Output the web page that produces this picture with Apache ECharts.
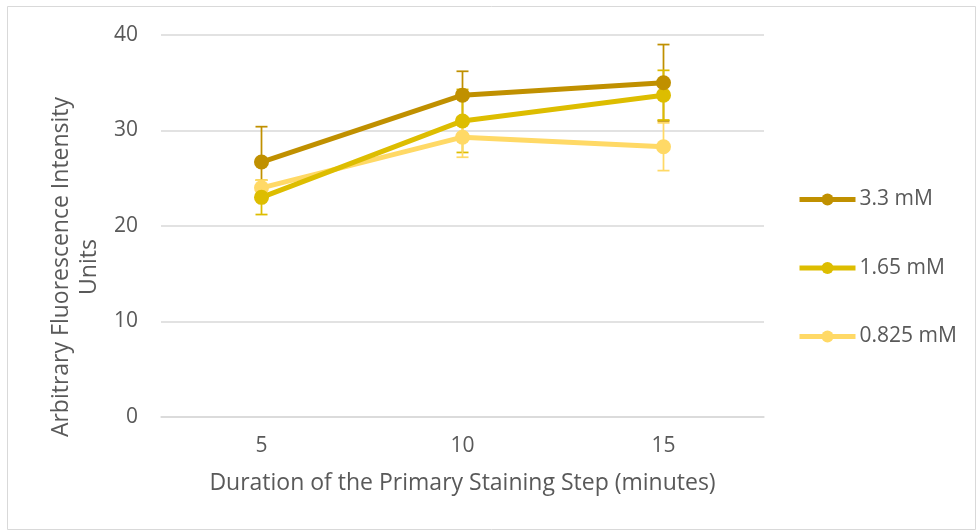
<!DOCTYPE html>
<html><head><meta charset="utf-8">
<script src="https://cdn.jsdelivr.net/npm/echarts@6/dist/echarts.min.js"></script>
<style>html,body{margin:0;padding:0;background:#fff}#c{width:978px;height:531px}</style>
</head><body><div id="c"></div>
<script>
const categories = ['5', '10', '15'];
const seriesNames = ['3.3 mM', '1.65 mM', '0.825 mM'];
const values33 = [26.7, 33.7, 35.0];
const values165 = [23.0, 31.0, 33.7];
const values0825 = [24.0, 29.3, 28.3];
const err33 = [3.7, 2.5, 4.0];
const err165 = [1.8, 3.3, 2.6];
const err0825 = [0.8, 2.1, 2.5];
const yTicks = { min: 0, max: 40, interval: 10 };
const colors = ['#C09000', '#DDBD00', '#FFD966'];

const allValues = [values33, values165, values0825];
const allErr = [err33, err165, err0825];
const FONT = 'Open Sans';
const TXT = '#595959';

const series = [];
allValues.forEach((vals, s) => {
  series.push({
    type: 'custom',
    name: seriesNames[s] + ' err',
    z: 1,
    silent: true,
    data: vals.map((v, i) => [i, v - allErr[s][i], v + allErr[s][i]]),
    renderItem: (params, api) => {
      const x = api.value(0);
      const lo = api.coord([x, api.value(1)]);
      const hi = api.coord([x, api.value(2)]);
      const w = 6;
      const st = { stroke: colors[s], lineWidth: 1.75 };
      return { type: 'group', children: [
        { type: 'line', shape: { x1: lo[0], y1: lo[1], x2: hi[0], y2: hi[1] }, style: st },
        { type: 'line', shape: { x1: lo[0] - w, y1: lo[1], x2: lo[0] + w, y2: lo[1] }, style: st },
        { type: 'line', shape: { x1: hi[0] - w, y1: hi[1], x2: hi[0] + w, y2: hi[1] }, style: st }
      ]};
    }
  });
});
allValues.forEach((vals, s) => {
  series.push({
    type: 'line',
    name: seriesNames[s],
    data: vals,
    z: 3 - s + 2,
    symbol: 'circle',
    symbolSize: 15,
    lineStyle: { width: 5, color: colors[s] },
    itemStyle: { color: colors[s] },
    emphasis: { disabled: true }
  });
});

const chart = echarts.init(document.getElementById('c'), null, { renderer: 'canvas' });
chart.setOption({
  animation: false,
  backgroundColor: '#fff',
  color: colors,
  grid: { left: 161, right: 214, top: 35, bottom: 114 },
  graphic: [
    { type: 'rect', shape: { x: 7.5, y: 6.5, width: 968, height: 523 }, style: { fill: 'none', stroke: '#D9D9D9', lineWidth: 1 } },
    { type: 'text', x: 47, y: 267, rotation: Math.PI / 2,
      style: { text: 'Arbitrary Fluorescence Intensity\nUnits', fill: TXT, font: '23px "' + FONT + '"', align: 'center', verticalAlign: 'top', lineHeight: 28 } }
  ],
  legend: {
    orient: 'vertical',
    left: 792,
    top: 184,
    itemWidth: 56,
    itemHeight: 15,
    itemGap: 47.5,
    data: seriesNames,
    lineStyle: { width: 5 },
    textStyle: { color: TXT, fontFamily: FONT, fontSize: 21, padding: [0, 0, 0, -1] }
  },
  xAxis: {
    type: 'category',
    data: categories,
    name: 'Duration of the Primary Staining Step (minutes)',
    nameLocation: 'middle',
    nameGap: 55,
    nameTextStyle: { color: TXT, fontFamily: FONT, fontSize: 23 },
    axisLine: { show: true, lineStyle: { color: '#D9D9D9', width: 1.5 } },
    axisTick: { show: false },
    axisLabel: { color: TXT, fontFamily: FONT, fontSize: 21, margin: 19 }
  },
  yAxis: {
    type: 'value',
    min: yTicks.min, max: yTicks.max, interval: yTicks.interval,
    axisLine: { show: false },
    axisTick: { show: false },
    splitLine: { lineStyle: { color: '#D9D9D9', width: 1.5 } },
    axisLabel: { color: TXT, fontFamily: FONT, fontSize: 21, margin: 23 }
  },
  series
});
</script></body></html>
